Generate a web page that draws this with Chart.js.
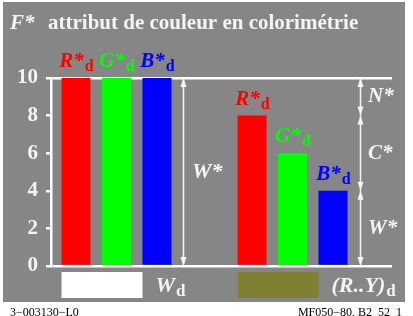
<!DOCTYPE html>
<html>
<head>
<meta charset="utf-8">
<script src="https://cdn.jsdelivr.net/npm/chart.js@4.4.1/dist/chart.umd.min.js"></script>
<style>
  html, body { margin: 0; padding: 0; background: #fff; }
</style>
</head>
<body>
<canvas id="chart" width="413" height="316"></canvas>
<script>
// data
const groupNames = ['W', '(R..Y)'];
const groupPos = [0, 1];
const redValues = [10, 8];
const greenValues = [10, 6];
const blueValues = [10, 4];
const barNames = ['R*', 'G*', 'B*'];
const barColors = ['#ff0000', '#00ff00', '#0000ff'];
const swatchColors = ['#ffffff', '#808033'];
const rightLabels = ['N*', 'C*', 'W*'];

const SERIF = '"Liberation Serif", "DejaVu Serif", serif';
const PANEL = '#868686';

function drawSub(ctx, main, sub, x, y, size, color, align) {
    const mainFont = 'italic bold ' + size + 'px ' + SERIF;
    const subFont = 'bold ' + Math.round(size * 0.75) + 'px ' + SERIF;
    ctx.font = mainFont;
    const w1 = ctx.measureText(main).width;
    ctx.font = subFont;
    const w2 = sub ? ctx.measureText(sub).width : 0;
    let x0 = x;
    if (align === 'center') x0 = x - (w1 + w2) / 2;
    ctx.fillStyle = color;
    ctx.textAlign = 'left';
    ctx.textBaseline = 'alphabetic';
    ctx.font = mainFont;
    ctx.fillText(main, x0, y);
    if (sub) {
        ctx.font = subFont;
        ctx.fillText(sub, x0 + w1 + 1, y + size * 0.2);
    }
}

function arrowHead(ctx, x, y, dir) { // dir -1 points up, 1 points down, tip at y
    ctx.beginPath();
    ctx.moveTo(x, y);
    ctx.lineTo(x - 3, y - dir * 9);
    ctx.lineTo(x + 3, y - dir * 9);
    ctx.closePath();
    ctx.fill();
}

function vArrow(ctx, x, yTop, yBottom) {
    ctx.beginPath();
    ctx.moveTo(x + 0.5, yTop);
    ctx.lineTo(x + 0.5, yBottom);
    ctx.stroke();
    arrowHead(ctx, x + 0.5, yTop, -1);
    arrowHead(ctx, x + 0.5, yBottom, 1);
}

const decorPlugin = {
    id: 'decor',
    beforeDraw(chart) {
        const ctx = chart.ctx;
        ctx.save();
        ctx.fillStyle = '#ffffff';
        ctx.fillRect(0, 0, chart.width, chart.height);
        ctx.fillStyle = PANEL;
        ctx.fillRect(3, 2, 402, 300);
        ctx.restore();
    },
    afterDraw(chart) {
        const ctx = chart.ctx;
        const area = chart.chartArea;
        const y = chart.scales.y;
        ctx.save();

        // title
        ctx.fillStyle = '#f4f4f4';
        ctx.textBaseline = 'alphabetic';
        ctx.textAlign = 'left';
        ctx.font = 'italic bold 21px ' + SERIF;
        ctx.fillText('F*', 10, 29);
        ctx.font = 'bold 21px ' + SERIF;
        ctx.fillText('attribut de couleur en colorimétrie', 48, 29);

        // labels over bars
        for (let d = 0; d < 3; d++) {
            const meta = chart.getDatasetMeta(d);
            meta.data.forEach(bar => {
                drawSub(ctx, barNames[d], 'd', bar.x, bar.y - 11, 21, barColors[d], 'center');
            });
        }

        // arrows
        ctx.strokeStyle = '#f4f4f4';
        ctx.fillStyle = '#f4f4f4';
        ctx.lineWidth = 1.5;
        const blueMeta = chart.getDatasetMeta(2);
        const leftBar = blueMeta.data[0];
        const rightBar = blueMeta.data[1];
        const ax1 = Math.round(leftBar.x + leftBar.width / 2 + 12);
        const ax2 = Math.round(rightBar.x + rightBar.width / 2 + 12);
        const yMax = y.getPixelForValue(y.max);
        const yMin = y.getPixelForValue(0);
        vArrow(ctx, ax1, yMax, yMin);
        ctx.font = 'italic bold 22px ' + SERIF;
        ctx.textBaseline = 'middle';
        ctx.fillText('W*', ax1 + 9, (yMax + yMin) / 2);

        const cuts = [y.max, redValues[1], blueValues[1], 0];
        for (let i = 0; i < 3; i++) {
            const y1 = y.getPixelForValue(cuts[i]);
            const y2 = y.getPixelForValue(cuts[i + 1]);
            vArrow(ctx, ax2, y1, y2);
            ctx.fillStyle = '#f4f4f4';
            ctx.font = 'italic bold 21px ' + SERIF;
            ctx.textBaseline = 'middle';
            ctx.textAlign = 'left';
            ctx.fillText(rightLabels[i], ax2 + 8, (y1 + y2) / 2);
        }

        // swatches under the groups
        const redMeta = chart.getDatasetMeta(0);
        for (let g = 0; g < groupNames.length; g++) {
            const r = redMeta.data[g];
            const b = blueMeta.data[g];
            const x0 = r.x - r.width / 2;
            const x1 = b.x - b.width / 2;
            ctx.fillStyle = swatchColors[g];
            ctx.fillRect(x0, area.bottom + 6, x1 - x0, 26);
            drawSub(ctx, groupNames[g], 'd', x1 + 13, area.bottom + 26, 22, '#f4f4f4', 'left');
        }

        // footer
        ctx.fillStyle = '#000000';
        ctx.font = '12px ' + SERIF;
        ctx.textBaseline = 'alphabetic';
        ctx.textAlign = 'left';
        ctx.fillText('3\u2212003130\u2212L0', 10, 316);
        ctx.textAlign = 'right';
        ctx.fillText('MF050\u221280, B2_52_1', 402, 316);

        ctx.restore();
    }
};

const toPoints = values => values.map((v, i) => ({ x: groupPos[i], y: v }));

new Chart(document.getElementById('chart'), {
    type: 'bar',
    data: {
        datasets: [
            { data: toPoints(redValues), backgroundColor: barColors[0] },
            { data: toPoints(greenValues), backgroundColor: barColors[1] },
            { data: toPoints(blueValues), backgroundColor: barColors[2] }
        ]
    },
    options: {
        responsive: false,
        animation: false,
        categoryPercentage: 0.69,
        barPercentage: 0.716,
        layout: { padding: { left: 17, top: 78, right: 21, bottom: 50 } },
        plugins: { legend: { display: false }, tooltip: { enabled: false } },
        scales: {
            x: {
                type: 'linear',
                display: false,
                offset: false,
                bounds: 'data',
                grid: { offset: false },
                min: -0.372,
                max: 1.565,
                afterBuildTicks: scale => {
                    scale.ticks = groupPos.map(v => ({ value: v }));
                }
            },
            y: {
                min: 0,
                max: 10,
                ticks: {
                    stepSize: 2,
                    color: '#f4f4f4',
                    padding: 8,
                    font: { family: SERIF, size: 21, weight: 'bold' }
                },
                grid: {
                    color: ctx => (ctx.tick && (ctx.tick.value === 0 || ctx.tick.value === 10)) ? '#ffffff' : 'rgba(0,0,0,0)',
                    tickColor: '#ffffff',
                    tickLength: 5,
                    lineWidth: 2.5
                },
                border: { color: '#ffffff', width: 2.5 },
                afterFit: scale => { scale.width = 34; }
            }
        }
    },
    plugins: [decorPlugin]
});
</script>
</body>
</html>
